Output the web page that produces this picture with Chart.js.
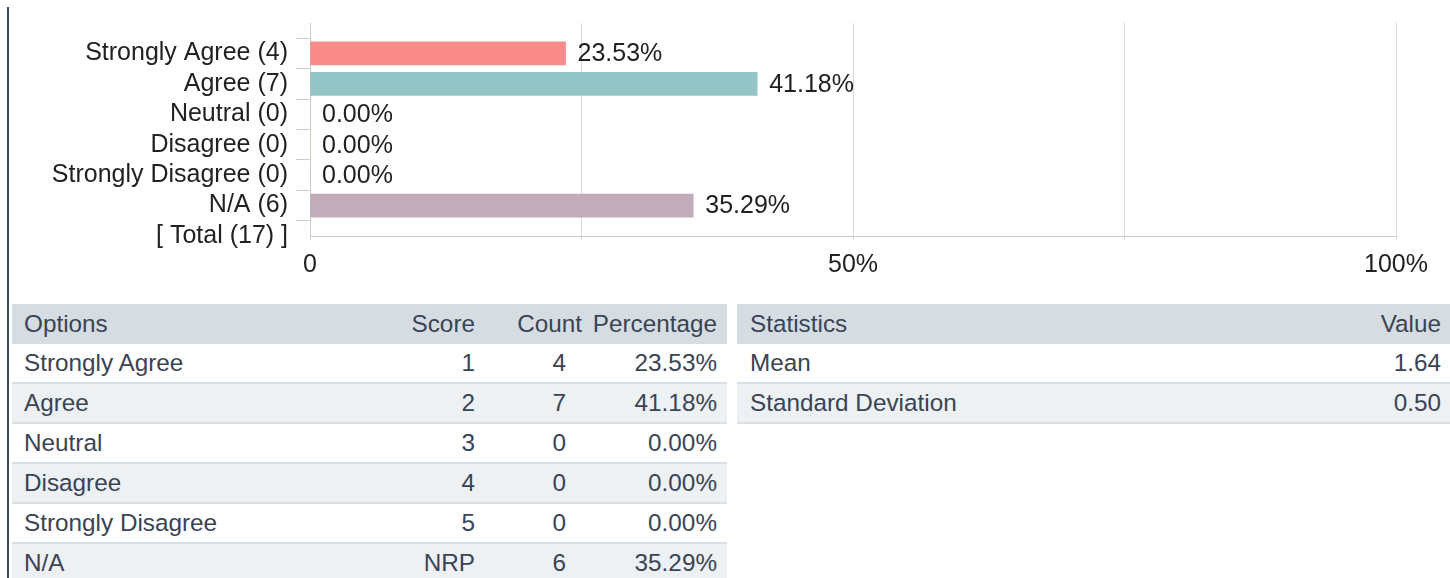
<!DOCTYPE html>
<html>
<head>
<meta charset="utf-8">
<script src="https://cdn.jsdelivr.net/npm/chart.js@4.4.0/dist/chart.umd.min.js"></script>
<style>
  body { margin: 0; width: 1450px; height: 578px; overflow: hidden; background: #fff; font-family: "Liberation Sans", Arial, sans-serif; }
  #leftBar { position: absolute; left: 7px; top: 7px; width: 2px; height: 580px; background: #3d4a5c; }
  #chartBox { position: absolute; left: 0; top: 0; width: 1450px; height: 300px; }
  table { position: absolute; top: 304px; border-collapse: collapse; table-layout: fixed; font-size: 24.3px; color: #3a4454; }
  th, td { font-weight: normal; padding: 0; white-space: nowrap; }
  th { background: #d5dde2; height: 40px; }
  td { height: 38px; border-bottom: 2px solid #d9e0e5; }
  tr.alt td { background: #edf1f4; }
  .l { text-align: left; padding-left: 12px; }
  .r { text-align: right; padding-right: 10px; }
  .cnt { text-align: right; padding-right: 26px; }
  #optTable { left: 12px; width: 715px; }
  #statTable { left: 737px; width: 713px; }
</style>
</head>
<body>
<div id="leftBar"></div>
<div id="chartBox"><canvas id="surveyChart" width="1450" height="300"></canvas></div>
<table id="optTable"></table>
<table id="statTable"></table>
<script>
const optionNames = ['Strongly Agree', 'Agree', 'Neutral', 'Disagree', 'Strongly Disagree', 'N/A'];
const scores = ['1', '2', '3', '4', '5', 'NRP'];
const counts = [4, 7, 0, 0, 0, 6];
const percentages = [23.53, 41.18, 0, 0, 0, 35.29];
const statNames = ['Mean', 'Standard Deviation'];
const statValues = ['1.64', '0.50'];
const xTickLabels = { 0: '0', 50: '50%', 100: '100%' };

const barColors = ['#f98b8b', '#93c5c6', '#b7d3a8', '#f3c98b', '#a9b8d8', '#c0adb9'];

const total = counts.reduce((a, b) => a + b, 0);
// leading blank label keeps the first bar off the top edge
const chartLabels = [''].concat(optionNames.map((n, i) => n + ' (' + counts[i] + ')'), ['[ Total (' + total + ') ]']);
const chartValues = [null].concat(percentages, [null]);

const valueLabels = {
  id: 'valueLabels',
  afterDatasetsDraw(chart) {
    const ctx = chart.ctx;
    const meta = chart.getDatasetMeta(0);
    ctx.save();
    ctx.font = '25px "Liberation Sans", Arial, sans-serif';
    ctx.fillStyle = '#222';
    ctx.textBaseline = 'middle';
    ctx.textAlign = 'left';
    meta.data.forEach((bar, i) => {
      const v = chartValues[i];
      if (v === null) return;
      ctx.fillText(v.toFixed(2) + '%', bar.x + 12, bar.y + 1);
    });
    ctx.restore();
  }
};

Chart.defaults.font.family = '"Liberation Sans", Arial, sans-serif';
Chart.defaults.font.size = 25;
Chart.defaults.color = '#222';

new Chart(document.getElementById('surveyChart').getContext('2d'), {
  type: 'bar',
  data: {
    labels: chartLabels,
    datasets: [{
      data: chartValues,
      backgroundColor: [null].concat(barColors),
      barThickness: 23
    }]
  },
  options: {
    indexAxis: 'y',
    responsive: false,
    animation: false,
    layout: { padding: { top: 20, right: 54, left: 0, bottom: 0 } },
    plugins: { legend: { display: false }, tooltip: { enabled: false } },
    scales: {
      x: {
        min: 0,
        max: 100,
        afterFit(scale) { scale.height = 64; },
        ticks: {
          stepSize: 25,
          padding: 10,
          maxRotation: 0,
          autoSkip: false,
          callback: v => xTickLabels[v] !== undefined ? xTickLabels[v] : ''
        },
        grid: { color: '#dcdcdc', tickLength: 4, tickColor: '#dcdcdc' },
        border: { color: '#cccccc' }
      },
      y: {
        offset: false,
        afterFit(scale) { scale.width = 310; },
        ticks: { padding: 8, autoSkip: false },
        grid: {
          drawOnChartArea: false,
          tickLength: 14,
          tickColor: c => c.index === 0 ? 'rgba(0,0,0,0)' : '#cccccc'
        },
        border: { color: '#cccccc' }
      }
    }
  },
  plugins: [valueLabels]
});

// options table
const optTable = document.getElementById('optTable');
let html = '<colgroup><col style="width:388px"><col style="width:85px"><col style="width:107px"><col style="width:135px"></colgroup>';
html += '<tr><th class="l">Options</th><th class="r">Score</th><th class="r">Count</th><th class="r">Percentage</th></tr>';
optionNames.forEach((n, i) => {
  html += '<tr' + (i % 2 ? ' class="alt"' : '') + '><td class="l">' + n + '</td><td class="r">' + scores[i] +
    '</td><td class="cnt">' + counts[i] + '</td><td class="r">' + percentages[i].toFixed(2) + '%</td></tr>';
});
optTable.innerHTML = html;

// statistics table
const statTable = document.getElementById('statTable');
let shtml = '<colgroup><col style="width:500px"><col style="width:213px"></colgroup>';
shtml += '<tr><th class="l" style="padding-left:13px">Statistics</th><th class="r" style="padding-right:9px">Value</th></tr>';
statNames.forEach((n, i) => {
  shtml += '<tr' + (i % 2 ? ' class="alt"' : '') + '><td class="l" style="padding-left:13px">' + n +
    '</td><td class="r" style="padding-right:9px">' + statValues[i] + '</td></tr>';
});
statTable.innerHTML = shtml;
</script>
</body>
</html>
